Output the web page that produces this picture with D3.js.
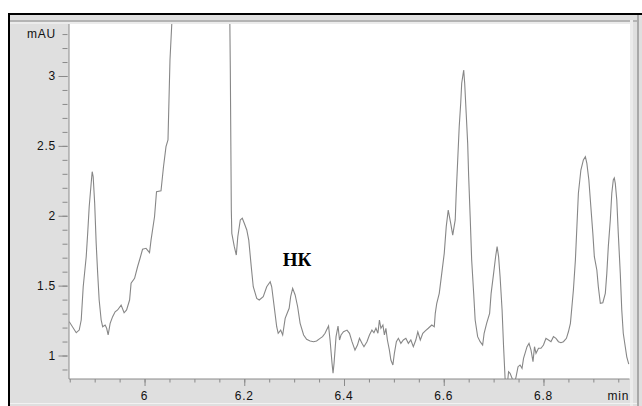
<!DOCTYPE html>
<html>
<head>
<meta charset="utf-8">
<script src="https://cdn.jsdelivr.net/npm/d3@7"></script>
<style>
  body { margin: 0; background: #fff; }
  #main { width: 642px; height: 406px; overflow: hidden; }
  .tick-label { font-family: "Liberation Sans", Arial, sans-serif; font-size: 12px; fill: #111; letter-spacing: 0.8px; }
</style>
</head>
<body>
<div id="main"></div>
<script>
// chromatogram trace, time in min and signal in mAU
var times = [
  5.849, 5.863, 5.869, 5.873, 5.877, 5.883, 5.886, 5.889, 5.893, 5.895,
  5.897, 5.900, 5.903, 5.906, 5.909, 5.913, 5.916, 5.921, 5.924, 5.927,
  5.931, 5.936, 5.941, 5.946, 5.953, 5.959, 5.964, 5.970, 5.973, 5.980,
  5.986, 5.991, 5.996, 6.003, 6.010, 6.013, 6.020, 6.024, 6.033, 6.038,
  6.043, 6.047, 6.049, 6.051, 6.055, 6.110, 6.171, 6.172, 6.174, 6.175,
  6.180, 6.184, 6.187, 6.192, 6.196, 6.200, 6.205, 6.209, 6.214, 6.218,
  6.225, 6.230, 6.238, 6.245, 6.252, 6.255, 6.260, 6.265, 6.268, 6.273,
  6.277, 6.282, 6.286, 6.290, 6.293, 6.297, 6.302, 6.307, 6.312, 6.319,
  6.325, 6.332, 6.339, 6.345, 6.352, 6.357, 6.362, 6.365, 6.369, 6.372,
  6.376, 6.378, 6.380, 6.384, 6.388, 6.391, 6.394, 6.399, 6.406, 6.411,
  6.416, 6.422, 6.427, 6.431, 6.436, 6.440, 6.446, 6.451, 6.456, 6.460,
  6.464, 6.468, 6.471, 6.474, 6.478, 6.481, 6.484, 6.487, 6.491, 6.494,
  6.498, 6.501, 6.505, 6.509, 6.514, 6.519, 6.524, 6.529, 6.534, 6.539,
  6.544, 6.548, 6.553, 6.558, 6.563, 6.569, 6.576, 6.581, 6.583, 6.586,
  6.591, 6.596, 6.601, 6.605, 6.609, 6.614, 6.618, 6.623, 6.625, 6.628,
  6.631, 6.634, 6.636, 6.640, 6.642, 6.645, 6.648, 6.650, 6.653, 6.656,
  6.660, 6.663, 6.668, 6.673, 6.678, 6.681, 6.686, 6.692, 6.695, 6.700,
  6.704, 6.707, 6.710, 6.713, 6.717, 6.720, 6.723, 6.726, 6.730, 6.733,
  6.737, 6.741, 6.745, 6.749, 6.753, 6.757, 6.760, 6.763, 6.767, 6.771,
  6.775, 6.779, 6.782, 6.785, 6.790, 6.795, 6.800, 6.805, 6.810, 6.815,
  6.820, 6.825, 6.830, 6.835, 6.840, 6.846, 6.850, 6.854, 6.857, 6.860,
  6.864, 6.867, 6.870, 6.875, 6.880, 6.884, 6.887, 6.891, 6.895, 6.899,
  6.902, 6.907, 6.910, 6.914, 6.919, 6.924, 6.927, 6.930, 6.934, 6.937,
  6.940, 6.942, 6.944, 6.947, 6.950, 6.954, 6.957, 6.960, 6.964, 6.967,
  6.971
];
var mau = [
  1.242, 1.163, 1.182, 1.254, 1.492, 1.707, 1.877, 2.065, 2.234, 2.315,
  2.279, 2.089, 1.803, 1.588, 1.397, 1.254, 1.206, 1.218, 1.195, 1.147,
  1.230, 1.278, 1.313, 1.326, 1.361, 1.306, 1.326, 1.397, 1.517, 1.552,
  1.635, 1.696, 1.760, 1.767, 1.736, 1.826, 1.993, 2.172, 2.179, 2.351,
  2.494, 2.542, 2.828, 3.115, 3.400, 6.000, 3.400, 3.043, 2.041, 1.874,
  1.779, 1.719, 1.850, 1.970, 1.982, 1.946, 1.898, 1.826, 1.635, 1.492,
  1.409, 1.397, 1.421, 1.492, 1.528, 1.492, 1.349, 1.206, 1.159, 1.182,
  1.147, 1.266, 1.302, 1.338, 1.421, 1.481, 1.433, 1.349, 1.230, 1.147,
  1.116, 1.104, 1.099, 1.104, 1.123, 1.135, 1.159, 1.182, 1.211, 1.111,
  0.944, 0.873, 0.944, 1.135, 1.211, 1.111, 1.147, 1.170, 1.182, 1.159,
  1.099, 1.039, 1.075, 1.123, 1.087, 1.063, 1.099, 1.147, 1.182, 1.163,
  1.195, 1.159, 1.254, 1.195, 1.218, 1.147, 1.195, 1.111, 1.039, 0.968,
  0.932, 1.016, 1.099, 1.123, 1.087, 1.111, 1.123, 1.087, 1.111, 1.063,
  1.111, 1.170, 1.111, 1.159, 1.177, 1.195, 1.218, 1.206, 1.302, 1.374,
  1.445, 1.588, 1.731, 1.922, 2.041, 1.946, 1.862, 1.970, 2.161, 2.399,
  2.637, 2.805, 2.948, 3.043, 2.948, 2.733, 2.518, 2.279, 1.993, 1.683,
  1.445, 1.254, 1.135, 1.099, 1.075, 1.159, 1.230, 1.302, 1.445, 1.588,
  1.707, 1.779, 1.707, 1.564, 1.326, 1.063, 0.837, 0.739, 0.884, 0.873,
  0.837, 0.789, 0.848, 0.920, 0.932, 0.908, 0.980, 1.016, 1.063, 1.087,
  1.039, 0.956, 1.063, 1.016, 1.052, 1.052, 1.075, 1.123, 1.111, 1.099,
  1.135, 1.123, 1.099, 1.092, 1.099, 1.123, 1.170, 1.230, 1.349, 1.469,
  1.683, 1.922, 2.161, 2.327, 2.399, 2.423, 2.375, 2.256, 2.065, 1.874,
  1.707, 1.612, 1.492, 1.374, 1.378, 1.445, 1.588, 1.779, 1.970, 2.161,
  2.256, 2.270, 2.232, 2.113, 1.874, 1.588, 1.326, 1.159, 1.063, 0.991,
  0.939
];

var xMajorTicks = [6, 6.2, 6.4, 6.6, 6.8];
var xMajorLabels = ['6', '6.2', '6.4', '6.6', '6.8'];
var unitTickX = 6.95;
var yMajorTicks = [1, 1.5, 2, 2.5, 3];
var yMajorLabels = ['1', '1.5', '2', '2.5', '3'];
var unitTickY = 3.3;
var peakLabel = 'НК';
var peakLabelAt = [6.306, 1.64];

var width = 642;
var height = 406;

var plot = { left: 69, right: 630, top: 24, bottom: 379 };

var svg = d3.select('#main')
  .append('svg')
  .attr('width', width)
  .attr('height', height);

var x = d3.scaleLinear()
  .domain([5.8485, 6.9725])
  .range([plot.left, 629.5]);

var y = d3.scaleLinear()
  .domain([0.832, 3.372])
  .range([plot.bottom, plot.top]);

// window frame
svg.append('rect').attr('width', width).attr('height', height).attr('fill', '#fff');
svg.append('rect').attr('x', 9).attr('y', 14).attr('width', 633).attr('height', 392).attr('fill', '#dfdfdf');
svg.append('rect').attr('x', 10).attr('y', 20).attr('width', 627).attr('height', 2).attr('fill', '#b4b4b4');
svg.append('rect').attr('x', 10).attr('y', 22).attr('width', 620).attr('height', 2).attr('fill', '#ececec');
svg.append('rect').attr('x', 630).attr('y', 20).attr('width', 3).attr('height', 386).attr('fill', '#ececec');
svg.append('rect').attr('x', 637).attr('y', 15).attr('width', 2).attr('height', 391).attr('fill', '#a9a9a9');
svg.append('rect').attr('x', 10).attr('y', 403).attr('width', 627).attr('height', 1).attr('fill', '#f2f2f2');
svg.append('rect').attr('x', 8).attr('y', 13).attr('width', 634).attr('height', 2).attr('fill', '#000');
svg.append('rect').attr('x', 8).attr('y', 13).attr('width', 2).attr('height', 393).attr('fill', '#000');

// plot area
svg.append('rect')
  .attr('x', plot.left)
  .attr('y', plot.top)
  .attr('width', plot.right - plot.left)
  .attr('height', plot.bottom - plot.top)
  .attr('fill', '#fff');

svg.append('clipPath')
  .attr('id', 'clip')
  .append('rect')
  .attr('x', plot.left)
  .attr('y', plot.top)
  .attr('width', plot.right - plot.left)
  .attr('height', plot.bottom - plot.top);

var axisColor = '#8a8a8a';

// y axis: minor every 0.1, labelled every 0.5
var yAxis = svg.append('g')
  .attr('transform', 'translate(' + plot.left + ',0)');

yAxis.append('g')
  .call(d3.axisLeft(y).tickValues(d3.range(9, 34).map(function(d) { return d / 10; })).tickSize(5).tickFormat(''))
  .call(function(g) { g.select('.domain').remove(); });

yAxis.append('g')
  .call(d3.axisLeft(y).tickValues(yMajorTicks).tickSize(9).tickFormat(''))
  .call(function(g) { g.select('.domain').remove(); });

yAxis.selectAll('.tick line')
  .attr('stroke', axisColor)
  .attr('transform', 'translate(-1.5,0)');

yAxis.append('line')
  .attr('y1', plot.top)
  .attr('y2', plot.bottom)
  .attr('stroke', axisColor);

yAxis.selectAll('.ylab')
  .data(yMajorTicks)
  .enter().append('text')
  .attr('class', 'tick-label')
  .attr('x', -13)
  .attr('y', function(d) { return y(d); })
  .attr('dy', '0.36em')
  .attr('text-anchor', 'end')
  .text(function(d, i) { return yMajorLabels[i]; });

yAxis.append('text')
  .attr('class', 'tick-label')
  .attr('x', -13)
  .attr('y', y(unitTickY))
  .attr('dy', '0.36em')
  .attr('text-anchor', 'end')
  .text('mAU');

// x axis: minor every 0.05, labelled every 0.2
var xAxis = svg.append('g')
  .attr('transform', 'translate(0,' + plot.bottom + ')');

xAxis.append('g')
  .call(d3.axisBottom(x).tickValues(d3.range(117, 140).map(function(d) { return d / 20; })).tickSize(3.5).tickFormat(''))
  .call(function(g) { g.select('.domain').remove(); });

xAxis.append('g')
  .call(d3.axisBottom(x).tickValues(xMajorTicks).tickSize(7).tickFormat(''))
  .call(function(g) { g.select('.domain').remove(); });

xAxis.selectAll('.tick line').attr('stroke', axisColor);

xAxis.append('line')
  .attr('x1', plot.left)
  .attr('x2', 629.5)
  .attr('stroke', axisColor);

xAxis.selectAll('.xlab')
  .data(xMajorTicks)
  .enter().append('text')
  .attr('class', 'tick-label')
  .attr('x', function(d) { return x(d); })
  .attr('y', 20.5)
  .attr('text-anchor', 'middle')
  .text(function(d, i) { return xMajorLabels[i]; });

xAxis.append('text')
  .attr('class', 'tick-label')
  .attr('x', x(unitTickX))
  .attr('y', 20.5)
  .attr('text-anchor', 'middle')
  .text('min');

// trace
var line = d3.line()
  .x(function(d) { return x(d[0]); })
  .y(function(d) { return y(d[1]); });

svg.append('path')
  .datum(d3.zip(times, mau))
  .attr('clip-path', 'url(#clip)')
  .attr('fill', 'none')
  .attr('stroke', '#878787')
  .attr('stroke-width', 1.1)
  .attr('d', line);

svg.append('text')
  .attr('x', x(peakLabelAt[0]))
  .attr('y', y(peakLabelAt[1]))
  .attr('text-anchor', 'middle')
  .style('font-family', '"Liberation Serif", "Times New Roman", serif')
  .style('font-weight', 'bold')
  .style('font-size', '19px')
  .attr('fill', '#000')
  .text(peakLabel);
</script>
</body>
</html>
